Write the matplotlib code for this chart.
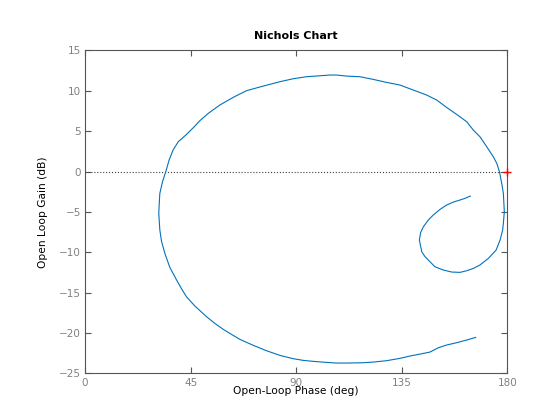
# Nichols chart (Octave style look)
import numpy as np
import matplotlib
matplotlib.use('Agg')
import matplotlib.pyplot as plt

# Open-loop response, phase (deg) and gain (dB)
phase = [166.5, 162.65, 158.4, 154.1, 150.6, 147.0, 142.75, 138.5, 134.2, 128.5,
         122.8, 118.6, 111.5, 107.2, 102.9, 97.25, 93.0, 88.7, 83.0, 77.3,
         71.7, 66.0, 62.4, 58.9, 55.3, 51.75, 46.8, 43.2, 41.1, 39.0,
         36.1, 34.0, 32.6, 31.85, 31.4, 31.6, 31.85, 33.0, 34.4, 35.8,
         37.5, 39.7, 42.9, 46.1, 48.9, 52.5, 57.4, 63.1, 68.8, 75.9,
         83.0, 88.7, 94.4, 100.1, 104.4, 107.2, 111.5, 117.2, 122.8, 128.5,
         134.2, 139.9, 145.6, 149.9, 154.1, 158.4, 162.65, 165.5, 168.3, 171.2,
         174.0, 175.5, 176.6, 177.6, 178.3, 178.7, 178.3, 178.0, 176.9, 175.2,
         171.9, 168.3, 165.5, 162.65, 159.8, 156.3, 152.7, 149.1, 147.0, 144.9,
         143.5, 142.5, 143.0, 144.2, 146.3, 148.4, 151.3, 154.1, 157.0, 159.8,
         161.9, 164.2]
gain = [-20.54, -20.87, -21.2, -21.49, -21.82, -22.36, -22.61, -22.85, -23.14, -23.43,
        -23.6, -23.68, -23.72, -23.72, -23.64, -23.51, -23.39, -23.18, -22.77, -22.19,
        -21.53, -20.79, -20.17, -19.55, -18.81, -17.98, -16.66, -15.51, -14.52, -13.44,
        -11.87, -10.14, -8.69, -7.25, -5.19, -3.95, -2.71, -1.26, 0.0, 1.42,
        2.66, 3.69, 4.51, 5.42, 6.29, 7.2, 8.23, 9.18, 10.01, 10.58,
        11.12, 11.49, 11.74, 11.86, 11.95, 11.95, 11.82, 11.74, 11.41, 11.04,
        10.71, 10.09, 9.47, 8.85, 7.94, 7.07, 6.17, 5.13, 4.31, 3.07,
        1.83, 1.01, 0.0, -1.47, -2.71, -4.98, -6.42, -7.25, -8.49, -9.73,
        -10.76, -11.58, -12.0, -12.29, -12.49, -12.45, -12.2, -11.79, -11.17, -10.55,
        -9.93, -8.49, -7.58, -6.84, -6.01, -5.39, -4.69, -4.15, -3.78, -3.53,
        -3.33, -3.04]

xticks = [0, 45, 90, 135, 180]
yticks = [-25, -20, -15, -10, -5, 0, 5, 10, 15]

fig = plt.figure(figsize=(5.6, 4.2), dpi=100)
ax = fig.add_axes([0.152, 0.111, 0.754, 0.769])

ax.plot([0, 180], [0, 0], color='#404040', linestyle=':', linewidth=0.8)
ax.plot(phase, gain, color='#0072BD', linewidth=0.8)
# critical point
ax.plot([180], [0], marker='+', color='red', markersize=5.5, markeredgewidth=1,
        clip_on=False, zorder=5)

ax.set_xlim(0, 180)
ax.set_ylim(-25, 15)
ax.set_xticks(xticks)
ax.set_yticks(yticks)
ax.tick_params(direction='in', top=True, right=True, length=4, width=0.8,
               colors='#555555', labelcolor='#808080', labelsize=7.5, pad=3)
for s in ax.spines.values():
    s.set_color('#555555')
    s.set_linewidth(0.8)

ax.set_title('Nichols Chart', fontsize=8, fontweight='bold', pad=8)
ax.set_xlabel('Open-Loop Phase (deg)', fontsize=7.7, labelpad=-1)
ax.set_ylabel('Open Loop Gain (dB)', fontsize=7.7, labelpad=8)

fig.savefig('out.png', dpi=100)
